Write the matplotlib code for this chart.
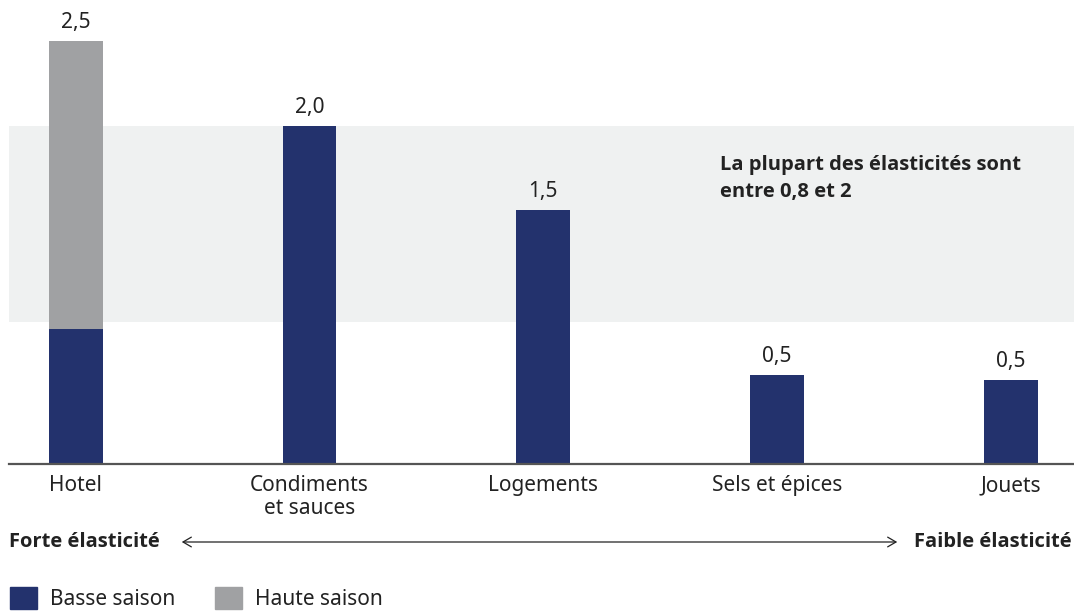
import matplotlib
matplotlib.use("Agg")
import matplotlib.pyplot as plt
from matplotlib.patches import Patch, FancyArrowPatch

categories = ["Hotel", "Condiments\net sauces", "Logements", "Sels et épices", "Jouets"]
basse_saison = [0.80, 2.0, 1.5, 0.527, 0.497]
haute_saison_extra = [1.70, 0, 0, 0, 0]
value_labels = ["2,5", "2,0", "1,5", "0,5", "0,5"]
band_range = [0.84, 2.0]

NAVY = "#23326d"
GREY = "#a0a1a3"
BAND = "#eff1f1"
TXT = "#222222"

plt.rcParams["font.family"] = ["Noto Sans", "DejaVu Sans"]
BOLD = ["Open Sans", "Noto Sans", "DejaVu Sans"]
FS = 15
FSB = 14.5

W, H = 1074, 611
fig = plt.figure(figsize=(W / 100, H / 100), dpi=100)
base_y = 464
ax = fig.add_axes([9 / W, (H - base_y) / H, (W - 9) / W, base_y / H])

x = list(range(len(categories)))
ax.axhspan(band_range[0], band_range[1], color=BAND, zorder=0, lw=0)
ax.bar(x, basse_saison, width=0.23, color=NAVY, zorder=2, label="Basse saison")
ax.bar(x, haute_saison_extra, width=0.23, bottom=basse_saison, color=GREY, zorder=2, label="Haute saison")

for xi, b, h, lab in zip(x, basse_saison, haute_saison_extra, value_labels):
    ax.annotate(lab, (xi, b + h), xytext=(0, 6), textcoords="offset points",
                ha="center", va="bottom", fontsize=FS, color=TXT)

fig.text(720 / W, 1 - 155 / H, "La plupart des élasticités sont\nentre 0,8 et 2",
         fontsize=FSB, fontweight="bold", family=BOLD, color=TXT, ha="left", va="top", linespacing=1.45)

ax.set_xlim(-0.286, 4.27)
ax.set_ylim(0, base_y / 169)
ax.set_xticks(x)
ax.set_xticklabels(categories, fontsize=FS, color=TXT, linespacing=1.1)
ax.tick_params(axis="x", length=0, pad=8)
ax.set_yticks([])
for s in ["top", "right", "left"]:
    ax.spines[s].set_visible(False)
ax.spines["bottom"].set_color("#555555")
ax.spines["bottom"].set_linewidth(1.6)
ax.set_facecolor("none")

# elasticity arrow
ay = 1 - 542 / H
fig.text(9 / W, ay, "Forte élasticité", fontsize=FSB, fontweight="bold", family=BOLD, color=TXT, ha="left", va="center")
fig.text(1072 / W, ay, "Faible élasticité", fontsize=FSB, fontweight="bold", family=BOLD, color=TXT, ha="right", va="center")
fig.add_artist(FancyArrowPatch((179 / W, ay), (900 / W, ay), transform=fig.transFigure,
               arrowstyle="<->,head_length=6,head_width=3.5", lw=0.9, color=TXT, mutation_scale=1))

handles = [Patch(color=NAVY, label="Basse saison"), Patch(color=GREY, label="Haute saison")]
fig.legend(handles=handles, loc="lower left", bbox_to_anchor=(-0.004, -0.022), ncol=2, frameon=False,
           fontsize=FS, handlelength=1.3, handleheight=1.3, handletextpad=0.6, columnspacing=1.92,
           labelcolor=TXT, borderaxespad=0.3)

fig.savefig("out.png", dpi=100)
